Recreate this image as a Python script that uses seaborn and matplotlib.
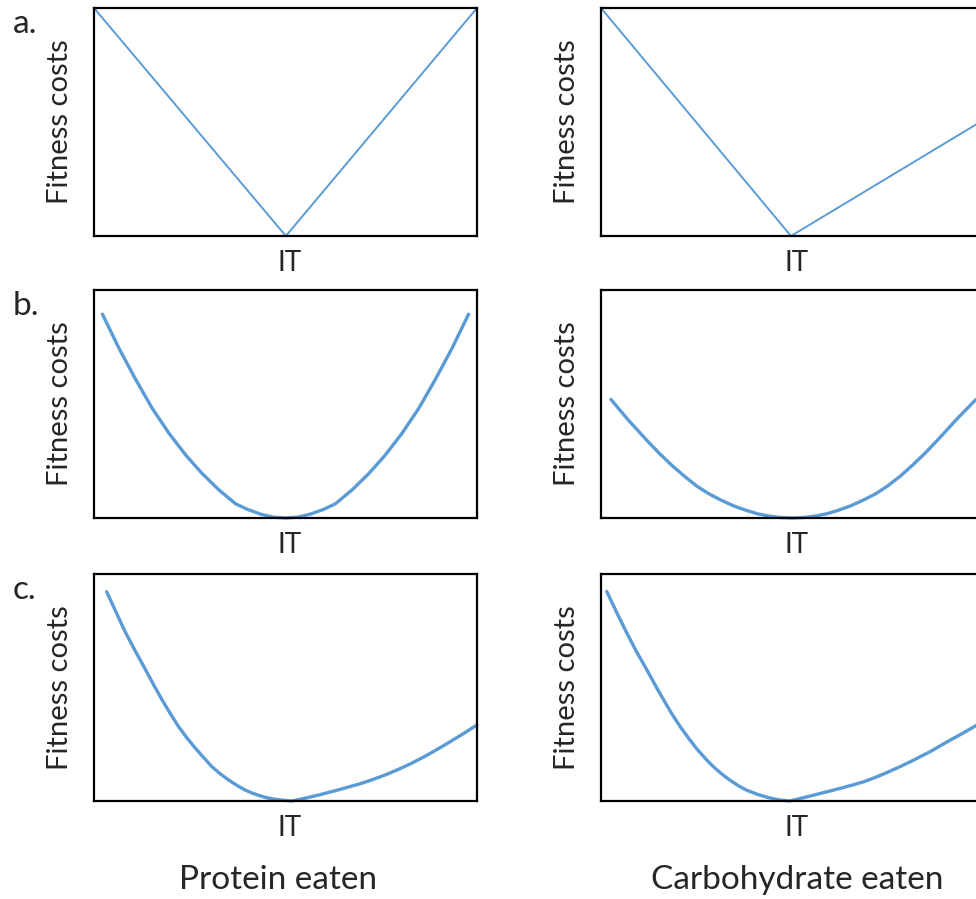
import matplotlib
matplotlib.use("Agg")
import matplotlib.pyplot as plt
import seaborn as sns
import numpy as np

# curves: x and y as fractions of each box
a_left_x = [0.0, 0.501, 1.0]
a_left_y = [1.0, 0.0, 1.0]
a_right_x = [0.0, 0.496, 1.0]
a_right_y = [1.0, 0.0, 0.51]

b_left_x = [0.022, 0.065, 0.109, 0.152, 0.196, 0.240, 0.283, 0.327, 0.370, 0.402, 0.435,
            0.467, 0.500, 0.533, 0.565, 0.598, 0.630, 0.673, 0.717, 0.760, 0.804, 0.848,
            0.891, 0.935, 0.978]
b_left_y = [0.894, 0.745, 0.607, 0.481, 0.371, 0.275, 0.194, 0.122, 0.062, 0.037, 0.017,
            0.004, 0.0, 0.004, 0.017, 0.037, 0.062, 0.122, 0.194, 0.275, 0.371, 0.481,
            0.607, 0.745, 0.894]
b_right_x = [0.026, 0.070, 0.119, 0.152, 0.185, 0.218, 0.250, 0.283, 0.315, 0.348, 0.380,
             0.410, 0.440, 0.470, 0.499, 0.528, 0.558, 0.588, 0.618, 0.650, 0.683, 0.716,
             0.748, 0.781, 0.813, 0.846, 0.879, 0.928, 0.979]
b_right_y = [0.520, 0.432, 0.342, 0.284, 0.231, 0.183, 0.140, 0.105, 0.077, 0.052, 0.033,
             0.018, 0.008, 0.002, 0.0, 0.002, 0.008, 0.018, 0.033, 0.052, 0.077, 0.105,
             0.140, 0.183, 0.231, 0.284, 0.342, 0.432, 0.520]

c_left_x = [0.033, 0.057, 0.080, 0.108, 0.135, 0.157, 0.178, 0.200, 0.221, 0.243, 0.265,
            0.287, 0.308, 0.330, 0.352, 0.374, 0.395, 0.413, 0.430, 0.447, 0.464, 0.490,
            0.516, 0.550, 0.586, 0.640, 0.699, 0.732, 0.765, 0.797, 0.829, 0.872, 0.916,
            0.958, 1.0]
c_left_y = [0.922, 0.834, 0.750, 0.660, 0.577, 0.508, 0.445, 0.383, 0.327, 0.277, 0.232,
            0.190, 0.151, 0.119, 0.092, 0.068, 0.048, 0.035, 0.025, 0.016, 0.010, 0.004,
            0.0, 0.012, 0.026, 0.050, 0.078, 0.097, 0.118, 0.141, 0.166, 0.204, 0.247,
            0.290, 0.335]
c_right_x = [0.015, 0.040, 0.065, 0.092, 0.120, 0.142, 0.163, 0.185, 0.207, 0.229, 0.250,
             0.272, 0.294, 0.316, 0.338, 0.360, 0.381, 0.409, 0.437, 0.465, 0.493, 0.532,
             0.572, 0.630, 0.685, 0.718, 0.750, 0.783, 0.816, 0.860, 0.903, 0.942, 0.981,
             1.0]
c_right_y = [0.923, 0.834, 0.748, 0.660, 0.577, 0.509, 0.447, 0.384, 0.327, 0.276, 0.230,
             0.188, 0.150, 0.118, 0.090, 0.066, 0.047, 0.029, 0.015, 0.005, 0.0, 0.016,
             0.033, 0.058, 0.084, 0.105, 0.128, 0.153, 0.180, 0.218, 0.260, 0.296, 0.334,
             0.352]

row_letters = ["a.", "b.", "c."]
col_titles = ["Protein eaten", "Carbohydrate eaten"]
y_label = "Fitness costs"
x_label = "IT"

curves = [
    [(a_left_x, a_left_y), (a_right_x, a_right_y)],
    [(b_left_x, b_left_y), (b_right_x, b_right_y)],
    [(c_left_x, c_left_y), (c_right_x, c_right_y)],
]

sns.set_theme(style="white")
plt.rcParams["font.family"] = ["Lato", "DejaVu Sans"]

W, H = 976, 899
fig = plt.figure(figsize=(W / 100, H / 100), dpi=100)

line_color = "#5B9BD5"
box_w = 383
col_left = [94, 601]
row_top = [8, 290, 574]
row_h = [228, 228, 227]
line_w = [1.4, 2.4, 2.4]

for r in range(3):
    for c in range(2):
        ax = fig.add_axes([col_left[c] / W, 1 - (row_top[r] + row_h[r]) / H,
                           box_w / W, row_h[r] / H])
        xs, ys = curves[r][c]
        sns.lineplot(x=xs, y=ys, ax=ax, color=line_color, linewidth=line_w[r],
                     estimator=None, sort=False, clip_on=False)
        ax.set_xlim(0, 1)
        ax.set_ylim(0, 1)
        ax.set_xticks([])
        ax.set_yticks([])
        for s in ax.spines.values():
            s.set_visible(True)
            s.set_color("black")
            s.set_linewidth(1.6)
        ax.set_ylabel(y_label, fontsize=21)
        ax.yaxis.set_label_coords(-0.089, 0.5)
        ax.set_xlabel(x_label, fontsize=20)
        ax.xaxis.set_label_coords(0.51, -0.118)
        ax.xaxis.label.set_va("center")
        ax.yaxis.label.set_va("center")

for r, letter in enumerate(row_letters):
    fig.text(13 / W, 1 - (row_top[r] + 16) / H, letter, fontsize=24,
             ha="left", va="center")

fig.text(278 / W, 1 - 880 / H, col_titles[0], fontsize=24, ha="center", va="center")
fig.text(797 / W, 1 - 880 / H, col_titles[1], fontsize=24, ha="center", va="center")

fig.savefig("out.png", dpi=100)
